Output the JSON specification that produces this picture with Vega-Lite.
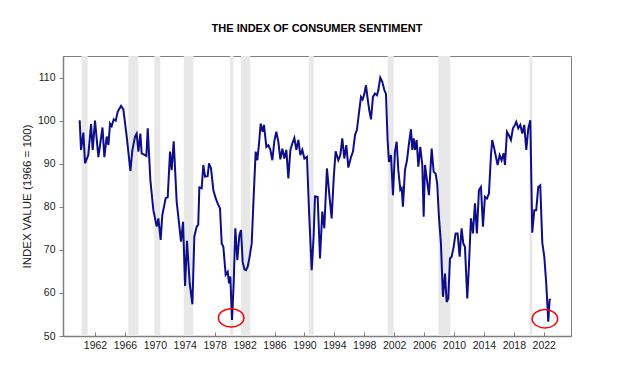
{
  "$schema": "https://vega.github.io/schema/vega-lite/v6.json",
  "width": 508,
  "height": 280,
  "autosize": {"type": "none"},
  "padding": {"left": 63, "top": 56, "right": 53, "bottom": 41},
  "background": "white",
  "title": {"text": "THE INDEX OF CONSUMER SENTIMENT", "font": "Liberation Sans", "fontSize": 11, "fontWeight": "bold", "color": "#000000", "anchor": "middle", "offset": 22},
  "config": {
    "view": {"stroke": "#7f7f7f", "strokeWidth": 1},
    "axis": {"grid": false, "domainColor": "#7f7f7f", "domainWidth": 1.5, "tickColor": "#7f7f7f", "labelFont": "Liberation Sans", "labelFontSize": 10.5, "labelColor": "#222222", "titleFont": "Liberation Sans", "titleFontSize": 11.5, "titleFontWeight": "normal", "titleColor": "#222222", "labelOverlap": false}
  },
  "datasets": {
    "rec": [
      {"start": 1960.22, "end": 1961.02},
      {"start": 1966.45, "end": 1967.79},
      {"start": 1969.93, "end": 1970.73},
      {"start": 1973.86, "end": 1975.14},
      {"start": 1980.05, "end": 1980.49},
      {"start": 1981.52, "end": 1982.76},
      {"start": 1990.6, "end": 1991.24},
      {"start": 2001.13, "end": 2001.93},
      {"start": 2007.9, "end": 2009.5},
      {"start": 2020.1, "end": 2020.46}
    ],
    "idx": [
      {"year": 1959.95, "value": 100.1}, {"year": 1960.13, "value": 93.2}, {"year": 1960.44, "value": 97.2}, {"year": 1960.67, "value": 90.1},
      {"year": 1961.1, "value": 92}, {"year": 1961.47, "value": 99.2}, {"year": 1961.69, "value": 93.2}, {"year": 1962.0, "value": 100},
      {"year": 1962.45, "value": 91.5}, {"year": 1963.0, "value": 98.4}, {"year": 1963.25, "value": 91.5}, {"year": 1963.56, "value": 96.3},
      {"year": 1963.79, "value": 94.3}, {"year": 1964.01, "value": 99.3}, {"year": 1964.23, "value": 98.7}, {"year": 1964.5, "value": 100.3},
      {"year": 1964.77, "value": 100}, {"year": 1965.04, "value": 102.1}, {"year": 1965.48, "value": 103.4}, {"year": 1965.79, "value": 102.6},
      {"year": 1966.24, "value": 96.3}, {"year": 1966.73, "value": 88.3}, {"year": 1967.0, "value": 93.2}, {"year": 1967.35, "value": 96.3},
      {"year": 1967.57, "value": 97}, {"year": 1967.8, "value": 92.8}, {"year": 1968.06, "value": 97}, {"year": 1968.24, "value": 92.4},
      {"year": 1968.69, "value": 92}, {"year": 1968.87, "value": 91.8}, {"year": 1969.05, "value": 98.2}, {"year": 1969.4, "value": 86.2},
      {"year": 1969.8, "value": 79.2}, {"year": 1970.25, "value": 75.4}, {"year": 1970.47, "value": 77.3}, {"year": 1970.78, "value": 72.3},
      {"year": 1971.0, "value": 78.1}, {"year": 1971.45, "value": 82}, {"year": 1971.72, "value": 82.2}, {"year": 1972.03, "value": 92.8},
      {"year": 1972.25, "value": 88.5}, {"year": 1972.52, "value": 95.2}, {"year": 1972.92, "value": 81.2}, {"year": 1973.5, "value": 71.9},
      {"year": 1973.77, "value": 76.5}, {"year": 1974.04, "value": 61.6}, {"year": 1974.3, "value": 72.1}, {"year": 1974.66, "value": 62.2},
      {"year": 1975.02, "value": 57.4}, {"year": 1975.28, "value": 73.1}, {"year": 1975.6, "value": 75.4}, {"year": 1975.8, "value": 75.8},
      {"year": 1975.95, "value": 84.5}, {"year": 1976.26, "value": 84.3}, {"year": 1976.48, "value": 89.7}, {"year": 1976.71, "value": 87},
      {"year": 1977.06, "value": 87.1}, {"year": 1977.24, "value": 90.1}, {"year": 1977.51, "value": 88.9}, {"year": 1977.82, "value": 83.9},
      {"year": 1978.13, "value": 82}, {"year": 1978.4, "value": 80.8}, {"year": 1978.71, "value": 79.6}, {"year": 1978.94, "value": 71.5},
      {"year": 1979.16, "value": 70.7}, {"year": 1979.47, "value": 64.2}, {"year": 1979.74, "value": 64.9}, {"year": 1979.92, "value": 62.2},
      {"year": 1980.09, "value": 63.8}, {"year": 1980.32, "value": 53.7}, {"year": 1980.54, "value": 62.2}, {"year": 1980.76, "value": 75},
      {"year": 1981.03, "value": 67.6}, {"year": 1981.3, "value": 73.4}, {"year": 1981.52, "value": 74.6}, {"year": 1981.74, "value": 67.2},
      {"year": 1981.97, "value": 65.5}, {"year": 1982.19, "value": 65.3}, {"year": 1982.41, "value": 66.1}, {"year": 1982.63, "value": 68},
      {"year": 1982.95, "value": 71.5}, {"year": 1983.21, "value": 82.3}, {"year": 1983.48, "value": 92.8}, {"year": 1983.7, "value": 90.8},
      {"year": 1983.93, "value": 94.7}, {"year": 1984.15, "value": 99.3}, {"year": 1984.42, "value": 97.4}, {"year": 1984.59, "value": 99},
      {"year": 1984.91, "value": 93.9}, {"year": 1985.17, "value": 94.3}, {"year": 1985.44, "value": 93.3}, {"year": 1985.71, "value": 90.8},
      {"year": 1985.98, "value": 95.3}, {"year": 1986.24, "value": 97.4}, {"year": 1986.51, "value": 95.1}, {"year": 1986.78, "value": 91},
      {"year": 1987.05, "value": 93.5}, {"year": 1987.31, "value": 91.2}, {"year": 1987.58, "value": 93.2}, {"year": 1987.85, "value": 86.6},
      {"year": 1988.12, "value": 93.2}, {"year": 1988.38, "value": 94.7}, {"year": 1988.65, "value": 96}, {"year": 1988.92, "value": 93.2},
      {"year": 1989.19, "value": 95.5}, {"year": 1989.45, "value": 92}, {"year": 1989.72, "value": 93.2}, {"year": 1989.99, "value": 91.2},
      {"year": 1990.34, "value": 91.6}, {"year": 1990.61, "value": 79.2}, {"year": 1990.97, "value": 65.3}, {"year": 1991.23, "value": 73.1},
      {"year": 1991.41, "value": 82.4}, {"year": 1991.77, "value": 82.3}, {"year": 1992.08, "value": 68}, {"year": 1992.39, "value": 78.9},
      {"year": 1992.66, "value": 75}, {"year": 1993.01, "value": 88.9}, {"year": 1993.37, "value": 82}, {"year": 1993.64, "value": 77.3},
      {"year": 1993.91, "value": 86.6}, {"year": 1994.17, "value": 92.9}, {"year": 1994.53, "value": 90.8}, {"year": 1994.8, "value": 92},
      {"year": 1995.06, "value": 95.9}, {"year": 1995.33, "value": 91.2}, {"year": 1995.6, "value": 94.3}, {"year": 1995.87, "value": 89.1},
      {"year": 1996.22, "value": 91.5}, {"year": 1996.49, "value": 92.8}, {"year": 1996.76, "value": 96.6}, {"year": 1997.03, "value": 98},
      {"year": 1997.29, "value": 101.8}, {"year": 1997.56, "value": 105.5}, {"year": 1997.78, "value": 104.9}, {"year": 1998.01, "value": 106.2},
      {"year": 1998.23, "value": 108.2}, {"year": 1998.45, "value": 105.1}, {"year": 1998.67, "value": 102.4}, {"year": 1998.9, "value": 100.3},
      {"year": 1999.16, "value": 105.5}, {"year": 1999.43, "value": 106.3}, {"year": 1999.7, "value": 105.9}, {"year": 1999.88, "value": 107.1},
      {"year": 2000.14, "value": 110}, {"year": 2000.41, "value": 109}, {"year": 2000.68, "value": 107.1}, {"year": 2000.9, "value": 106.2},
      {"year": 2001.12, "value": 95.5}, {"year": 2001.3, "value": 90.4}, {"year": 2001.57, "value": 92}, {"year": 2001.84, "value": 82.7},
      {"year": 2002.1, "value": 92.8}, {"year": 2002.33, "value": 95.1}, {"year": 2002.55, "value": 88.5}, {"year": 2002.82, "value": 83.9},
      {"year": 2003.0, "value": 84.3}, {"year": 2003.17, "value": 80}, {"year": 2003.44, "value": 88.5}, {"year": 2003.71, "value": 90.8},
      {"year": 2003.98, "value": 94.7}, {"year": 2004.24, "value": 98}, {"year": 2004.42, "value": 93.2}, {"year": 2004.6, "value": 95.9},
      {"year": 2004.78, "value": 93.2}, {"year": 2005.0, "value": 95.5}, {"year": 2005.23, "value": 89.3}, {"year": 2005.49, "value": 93.9},
      {"year": 2005.76, "value": 89.7}, {"year": 2005.94, "value": 77.7}, {"year": 2006.12, "value": 89.7}, {"year": 2006.38, "value": 86.2},
      {"year": 2006.65, "value": 82.7}, {"year": 2007.01, "value": 93.5}, {"year": 2007.28, "value": 88.1}, {"year": 2007.54, "value": 87.7},
      {"year": 2007.75, "value": 85.4}, {"year": 2007.98, "value": 77.7}, {"year": 2008.25, "value": 71.5}, {"year": 2008.52, "value": 59.1},
      {"year": 2008.79, "value": 64.5}, {"year": 2009.01, "value": 57.9}, {"year": 2009.23, "value": 58.7}, {"year": 2009.46, "value": 68},
      {"year": 2009.68, "value": 68.4}, {"year": 2009.95, "value": 70.7}, {"year": 2010.21, "value": 73.8}, {"year": 2010.48, "value": 73.8},
      {"year": 2010.75, "value": 68.4}, {"year": 2011.01, "value": 75}, {"year": 2011.24, "value": 71.5}, {"year": 2011.46, "value": 70.7},
      {"year": 2011.77, "value": 58.7}, {"year": 2011.99, "value": 66.1}, {"year": 2012.26, "value": 77.3}, {"year": 2012.53, "value": 73.8},
      {"year": 2012.8, "value": 80.8}, {"year": 2013.06, "value": 73.8}, {"year": 2013.33, "value": 83.9}, {"year": 2013.6, "value": 84.6},
      {"year": 2013.87, "value": 75.4}, {"year": 2014.13, "value": 82.3}, {"year": 2014.4, "value": 81.9}, {"year": 2014.67, "value": 83.1},
      {"year": 2014.94, "value": 92}, {"year": 2015.11, "value": 95.5}, {"year": 2015.38, "value": 93.5}, {"year": 2015.65, "value": 91.2},
      {"year": 2015.83, "value": 89.7}, {"year": 2016.1, "value": 92}, {"year": 2016.36, "value": 90.8}, {"year": 2016.63, "value": 92.4},
      {"year": 2016.81, "value": 89.7}, {"year": 2017.08, "value": 97.4}, {"year": 2017.34, "value": 96.6}, {"year": 2017.61, "value": 95.5},
      {"year": 2017.88, "value": 98.2}, {"year": 2018.15, "value": 99}, {"year": 2018.32, "value": 99.7}, {"year": 2018.59, "value": 98.2},
      {"year": 2018.86, "value": 99}, {"year": 2019.13, "value": 97}, {"year": 2019.39, "value": 99}, {"year": 2019.66, "value": 93.2},
      {"year": 2019.93, "value": 98.2}, {"year": 2020.2, "value": 100.1}, {"year": 2020.46, "value": 74}, {"year": 2020.73, "value": 79.2},
      {"year": 2020.99, "value": 79.2}, {"year": 2021.26, "value": 84.6}, {"year": 2021.53, "value": 85}, {"year": 2021.8, "value": 71.7},
      {"year": 2022.07, "value": 68.4}, {"year": 2022.33, "value": 62.2}, {"year": 2022.6, "value": 53.3}, {"year": 2022.78, "value": 58.4},
      {"year": 2022.96, "value": 58.5}
    ],
    "lows": [
      {"year": 1980.2, "value": 54.2},
      {"year": 2022.15, "value": 54.0}
    ]
  },
  "layer": [
    {
      "data": {"name": "rec"},
      "mark": {"type": "rect", "color": "#e8e8e8"},
      "encoding": {
        "x": {"field": "start", "type": "quantitative", "scale": {"domain": [1957.72, 2025.64], "nice": false, "zero": false},
              "axis": {"values": [1962, 1966, 1970, 1974, 1978, 1982, 1986, 1990, 1994, 1998, 2002, 2006, 2010, 2014, 2018, 2022], "tickCount": 30, "format": "d", "title": null, "tickSize": -4, "labelPadding": 8, "labelOverlap": false, "labelFlush": false}},
        "x2": {"field": "end"}
      }
    },
    {
      "data": {"name": "idx"},
      "mark": {"type": "line", "color": "#0e0e8a", "strokeWidth": 2, "clip": true},
      "encoding": {
        "x": {"field": "year", "type": "quantitative"},
        "y": {"field": "value", "type": "quantitative", "scale": {"domain": [50, 115], "nice": false, "zero": false},
              "axis": {"values": [50, 60, 70, 80, 90, 100, 110], "tickCount": 20, "title": "INDEX VALUE (1966 = 100)", "tickSize": 4, "labelPadding": 4, "titleX": -36, "titleBaseline": "middle", "labelOverlap": false}}
      }
    },
    {
      "data": {"name": "lows"},
      "mark": {"type": "point", "filled": false, "stroke": "#ff0000", "strokeWidth": 1.5, "opacity": 1, "size": 650,
               "shape": "M -1 0 A 1 0.72 0 1 0 1 0 A 1 0.72 0 1 0 -1 0 Z"},
      "encoding": {
        "x": {"field": "year", "type": "quantitative"},
        "y": {"field": "value", "type": "quantitative"}
      }
    }
  ]
}
